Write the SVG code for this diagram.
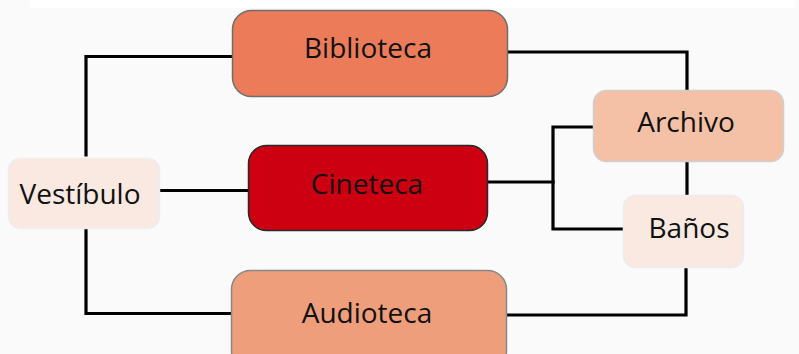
<svg xmlns="http://www.w3.org/2000/svg" width="799" height="354" viewBox="0 0 799 354">
<style>
.bg{fill:#fafafa}
.lbl{font-family:"Open Sans","Noto Sans",sans-serif;font-size:28px;fill:#111;text-anchor:middle}
.con{fill:none;stroke:#000;stroke-width:3.2;stroke-linejoin:miter;stroke-linecap:square}
</style>
<rect class="bg" x="0" y="0" width="799" height="354"/>
<rect x="30" y="0" width="765" height="8" fill="#ffffff"/>
<g id="connectors">
<path class="con" d="M232,56.5 H86 V155"/>
<path class="con" d="M508,52 H687 V90"/>
<path class="con" d="M160,190.5 H248"/>
<path class="con" d="M86,229 V313.5 H231"/>
<path class="con" d="M488,182 H553"/>
<path class="con" d="M593,127 H553 V229 H623"/>
<path class="con" d="M687,162 V195"/>
<path class="con" d="M686,268 V315 H506"/>
</g>
<g id="biblioteca">
<rect x="232.5" y="10.5" width="275" height="86" rx="19" fill="#ec7b59" stroke="#6e6e6e" stroke-width="1.5"/>
<text class="lbl" x="368" y="58">Biblioteca</text>
</g>
<g id="cineteca">
<rect x="248.5" y="145.5" width="239" height="85" rx="18" fill="#cc0010" stroke="#2a2a2a" stroke-width="1.5"/>
<text class="lbl" x="367" y="194">Cineteca</text>
</g>
<g id="vestibulo">
<rect x="8.5" y="158.5" width="151" height="70" rx="12" fill="#f9e9e0" stroke="#eeeeee" stroke-width="1.5"/>
<text class="lbl" x="80" y="204">Vestíbulo</text>
</g>
<g id="audioteca">
<rect x="231.5" y="270.5" width="275" height="100" rx="19" fill="#ef9e7c" stroke="#888888" stroke-width="1.5"/>
<text class="lbl" x="367" y="323">Audioteca</text>
</g>
<g id="archivo">
<rect x="593.5" y="90.5" width="190" height="71" rx="13" fill="#f4c1a7" stroke="#cfcfcf" stroke-width="1.5"/>
<text class="lbl" x="686" y="132">Archivo</text>
</g>
<g id="banos">
<rect x="623.5" y="195.5" width="120" height="72" rx="12" fill="#f9e9e0" stroke="#ececec" stroke-width="1.5"/>
<text class="lbl" x="689" y="238">Baños</text>
</g>
</svg>
